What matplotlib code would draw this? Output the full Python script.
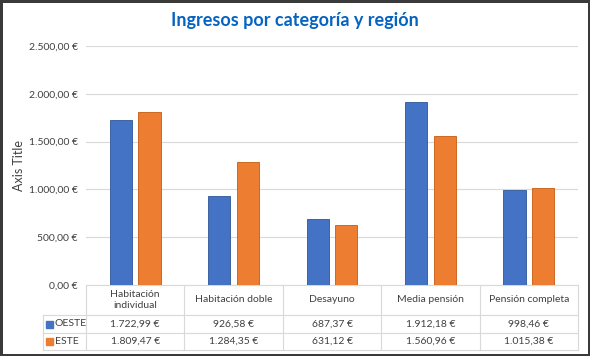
import numpy as np
import matplotlib.pyplot as plt
from matplotlib.patches import Rectangle

categories = ['Habitación\nindividual', 'Habitación doble', 'Desayuno',
              'Media pensión', 'Pensión completa']
series = ['OESTE', 'ESTE']
oeste = [1722.99, 926.58, 687.37, 1912.18, 998.46]
este = [1809.47, 1284.35, 631.12, 1560.96, 1015.38]
colors = ['#4472C4', '#ED7D31']
yticks = [0, 500, 1000, 1500, 2000, 2500]


def euro(v):
    s = f"{v:,.2f}".replace(',', 'X').replace('.', ',').replace('X', '.')
    return s + ' €'


plt.rcParams['font.family'] = ['Lato', 'DejaVu Sans']
grid = '#D9D9D9'
txt = '#404040'

fig = plt.figure(figsize=(5.9, 3.56), dpi=100)
fig.patch.set_edgecolor('#3a3a3a')
fig.patch.set_linewidth(2.5)
ax = fig.add_axes([86 / 590, 71 / 356, 492 / 590, 239 / 356])

x = np.arange(len(categories))
w = 0.225
ax.bar(x - 0.145, oeste, w, color=colors[0], edgecolor='#2F5597', linewidth=0.6, zorder=3)
ax.bar(x + 0.145, este, w, color=colors[1], edgecolor='#C55A11', linewidth=0.6, zorder=3)

ax.set_xlim(-0.5, len(categories) - 0.5)
ax.set_ylim(0, 2500)
ax.set_yticks(yticks)
ax.set_yticklabels([euro(v) for v in yticks], fontsize=7.5, color=txt)
ax.tick_params(axis='y', length=0, pad=6)
ax.set_xticks([])
ax.grid(axis='y', color=grid, linewidth=0.8, zorder=0)
for s in ax.spines.values():
    s.set_visible(False)

ax.set_ylabel('Axis Title', fontsize=9, color=txt)
ax.yaxis.set_label_coords(-0.124, 0.5)
fig.text(0.5, 0.942, 'Ingresos por categoría y región', ha='center', va='center',
         fontsize=13, fontweight='bold', color='#0563C1')

# data table under the axis, in axes coordinates vertically
tr = ax.get_xaxis_transform()
px = 1 / 239  # one pixel in axes-y units
y_top = 0
y_h = -30 * px
y_r1 = -48 * px
y_r2 = -65 * px
xl = -0.5 - (86 - 43) / (492 / 5)

line_kw = dict(color=grid, linewidth=0.8, transform=tr, clip_on=False)
ax.plot([-0.5, 4.5], [y_top, y_top], **line_kw)
for yy in (y_h, y_r1, y_r2):
    ax.plot([xl, 4.5], [yy, yy], **line_kw)
for b in np.arange(-0.5, 5.0, 1.0):
    ax.plot([b, b], [y_top, y_r2], **line_kw)
ax.plot([xl, xl], [y_h, y_r2], **line_kw)

for i, c in enumerate(categories):
    ax.text(i, (y_top + y_h) / 2, c, ha='center', va='center', fontsize=7.5,
            color=txt, transform=tr, linespacing=1.4)
    ax.text(i, (y_h + y_r1) / 2, euro(oeste[i]), ha='center', va='center',
            fontsize=7.5, color=txt, transform=tr)
    ax.text(i, (y_r1 + y_r2) / 2, euro(este[i]), ha='center', va='center',
            fontsize=7.5, color=txt, transform=tr)

for j, (name, yc) in enumerate(zip(series, [(y_h + y_r1) / 2, (y_r1 + y_r2) / 2])):
    ax.add_patch(Rectangle((xl + 0.03, yc - 3.5 * px), 0.075, 7 * px, color=colors[j],
                           transform=tr, clip_on=False))
    ax.text(xl + 0.12, yc, name, ha='left', va='center', fontsize=7.5,
            color=txt, transform=tr)

fig.savefig('out.png', dpi=100)
